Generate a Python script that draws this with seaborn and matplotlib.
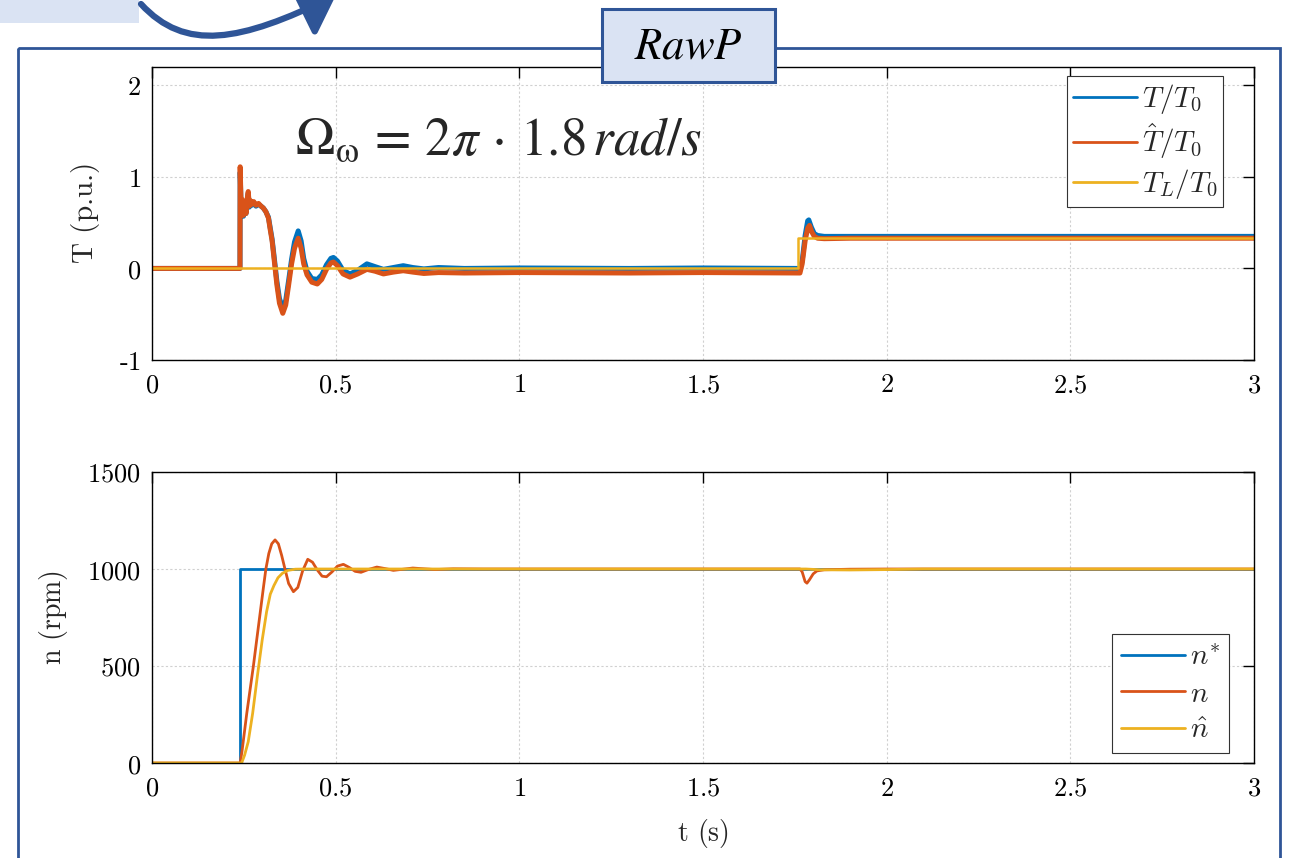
import numpy as np
import pandas as pd
import matplotlib
matplotlib.use("Agg")
import matplotlib.pyplot as plt
import seaborn as sns
from matplotlib.patches import Rectangle, FancyArrowPatch
from matplotlib.path import Path

# ---------------- data ----------------
x_ticks = [0, 0.5, 1, 1.5, 2, 2.5, 3]
x_ticklabels = ["0", "0.5", "1", "1.5", "2", "2.5", "3"]
T_yticks = [-1, 0, 1, 2]
T_yticklabels = [r"\text{-}1", "0", "1", "2"]
n_yticks = [0, 500, 1000, 1500]
n_yticklabels = ["0", "500", "1000", "1500"]

# torque estimate (orange)
t_That = [0, 0.2395, 0.2400, 0.243, 0.246, 0.249, 0.252, 0.256, 0.259, 0.262, 0.265,
          0.268, 0.272, 0.277, 0.283, 0.290, 0.297, 0.303, 0.310, 0.317, 0.322, 0.327,
          0.333, 0.340, 0.347, 0.356, 0.364, 0.372, 0.380, 0.388, 0.398, 0.406, 0.413,
          0.422, 0.435, 0.450, 0.462, 0.475, 0.487, 0.494, 0.505, 0.520, 0.539, 0.560,
          0.585, 0.607, 0.630, 0.657, 0.684, 0.710, 0.740, 0.780, 0.850, 1.0, 1.3, 1.5,
          1.764, 1.770, 1.778, 1.785, 1.790, 1.796, 1.803, 1.812, 1.830, 1.9, 2.2, 2.6, 3.0]
v_That = [0, 0, 1.11, 0.62, 0.75, 0.58, 0.72, 0.60, 0.76, 0.84, 0.68,
          0.74, 0.70, 0.73, 0.69, 0.71, 0.68, 0.66, 0.62, 0.55, 0.42, 0.30,
          0.08, -0.18, -0.38, -0.49, -0.40, -0.18, 0.05, 0.22, 0.33, 0.22, 0.05,
          -0.07, -0.15, -0.17, -0.12, -0.01, 0.06, 0.07, 0.03, -0.06, -0.095, -0.06,
          -0.01, -0.03, -0.06, -0.04, -0.025, -0.04, -0.055, -0.045, -0.05, -0.045, -0.05, -0.045,
          -0.05, 0.05, 0.30, 0.44, 0.47, 0.40, 0.35, 0.33, 0.325, 0.33, 0.33, 0.33, 0.33]

# torque (blue)
t_T = [0, 0.2395, 0.2400, 0.243, 0.246, 0.249, 0.252, 0.256, 0.259, 0.262, 0.265,
       0.268, 0.272, 0.277, 0.283, 0.290, 0.297, 0.303, 0.310, 0.317, 0.322, 0.327,
       0.333, 0.340, 0.347, 0.356, 0.364, 0.372, 0.380, 0.388, 0.398, 0.406, 0.413,
       0.422, 0.435, 0.450, 0.462, 0.475, 0.487, 0.494, 0.505, 0.520, 0.539, 0.560,
       0.585, 0.607, 0.630, 0.657, 0.684, 0.710, 0.740, 0.780, 0.850, 1.0, 1.3, 1.5,
       1.764, 1.770, 1.778, 1.785, 1.788, 1.795, 1.803, 1.812, 1.830, 1.9, 2.2, 2.6, 3.0]
v_T = [0, 0, 1.05, 0.60, 0.72, 0.57, 0.70, 0.60, 0.74, 0.82, 0.67,
       0.73, 0.69, 0.72, 0.68, 0.70, 0.68, 0.66, 0.62, 0.56, 0.44, 0.32,
       0.11, -0.14, -0.33, -0.43, -0.35, -0.13, 0.10, 0.29, 0.41, 0.30, 0.11,
       -0.03, -0.11, -0.12, -0.07, 0.04, 0.11, 0.12, 0.08, -0.02, -0.06, -0.02,
       0.05, 0.02, -0.01, 0.01, 0.03, 0.01, -0.005, 0.01, 0.0, 0.005, 0.0, 0.005,
       0.0, 0.08, 0.36, 0.52, 0.53, 0.45, 0.38, 0.36, 0.35, 0.35, 0.35, 0.35, 0.35]

# load torque (yellow)
t_TL = [0, 1.758, 1.758, 3.0]
v_TL = [0, 0, 0.33, 0.33]

# speed reference (blue)
t_nref = [0, 0.240, 0.240, 3.0]
v_nref = [0, 0, 1000, 1000]

# measured speed (orange)
t_n = [0, 0.240, 0.245, 0.258, 0.276, 0.285, 0.292, 0.303, 0.310, 0.318, 0.326, 0.335,
       0.344, 0.353, 0.362, 0.372, 0.385, 0.397, 0.410, 0.424, 0.437, 0.450, 0.463,
       0.475, 0.490, 0.505, 0.521, 0.537, 0.553, 0.569, 0.590, 0.612, 0.635, 0.657,
       0.680, 0.710, 0.740, 0.770, 0.820, 0.900, 1.764, 1.770, 1.778, 1.783, 1.790,
       1.800, 1.810, 1.830, 1.900, 2.000, 3.0]
v_n = [0, 0, 60, 256, 500, 634, 737, 900, 1000, 1080, 1130, 1150,
       1130, 1070, 1000, 925, 883, 905, 990, 1050, 1035, 995, 963,
       960, 985, 1015, 1024, 1008, 988, 983, 998, 1010, 1002, 993,
       998, 1005, 1001, 997, 1001, 1000, 1000, 985, 935, 927, 945,
       975, 990, 996, 999, 1000, 1000]

# estimated speed (yellow)
t_nhat = [0, 0.244, 0.252, 0.262, 0.274, 0.287, 0.300, 0.312, 0.322, 0.332, 0.343,
          0.355, 0.370, 0.390, 0.420, 1.780, 1.820, 1.900, 2.000, 2.100, 3.0]
v_nhat = [0, 0, 40, 110, 256, 450, 634, 780, 870, 915, 955,
          978, 993, 999, 1000, 1000, 996, 995, 997, 1000, 1000]

C_BLUE = "#0072BD"
C_ORANGE = "#D95319"
C_YELLOW = "#EDB120"
FRAME = "#2F5597"
FILL = "#DAE3F3"

# ---------------- style ----------------
sns.set_style("white")
plt.rcParams["font.family"] = ["DejaVu Serif"]
plt.rcParams["mathtext.fontset"] = "cm"

W, H = 1289, 858
fig = plt.figure(figsize=(W / 100, H / 100), dpi=100)
fig.patch.set_facecolor("white")


def px_axes(l, t, r, b):
    return [l / W, 1 - b / H, (r - l) / W, (b - t) / H]


ax_bg = fig.add_axes([0, 0, 1, 1], zorder=0)
ax_bg.set_xlim(0, W)
ax_bg.set_ylim(H, 0)
ax_bg.axis("off")
ax_bg.patch.set_alpha(0)

ax1 = fig.add_axes(px_axes(152, 67, 1254, 360), zorder=2)
ax2 = fig.add_axes(px_axes(152, 472, 1254, 763), zorder=2)

ax_fg = fig.add_axes([0, 0, 1, 1], zorder=5)
ax_fg.set_xlim(0, W)
ax_fg.set_ylim(H, 0)
ax_fg.axis("off")
ax_fg.patch.set_alpha(0)

# decorations
ax_bg.add_patch(Rectangle((0, -5), 139, 28, facecolor=FILL, edgecolor="none"))
ax_bg.add_patch(Rectangle((18, 48), 1262, 840, facecolor="none", edgecolor=FRAME, lw=2.0))
arrow_path = Path([(141, 4), (185, 52), (240, 42), (336, -5)],
                  [Path.MOVETO, Path.CURVE4, Path.CURVE4, Path.CURVE4])
ax_bg.add_patch(FancyArrowPatch(path=arrow_path, arrowstyle="-|>,head_length=0.9,head_width=0.7",
                                mutation_scale=24, color=FRAME, lw=4.5))

ax_fg.add_patch(Rectangle((602, 9), 173, 73, facecolor=FILL, edgecolor=FRAME, lw=2.2))
ax_fg.text(688, 46, r"$RawP$", math_fontfamily="stix", fontsize=32,
           ha="center", va="center", color="black")


def style_axes(ax, yticks, yticklabels, ylim):
    ax.set_xlim(0, 3)
    ax.set_ylim(*ylim)
    ax.set_xticks(x_ticks)
    ax.set_xticklabels(["$" + s + "$" for s in x_ticklabels])
    ax.set_yticks(yticks)
    ax.set_yticklabels(["$" + s + "$" for s in yticklabels])
    ax.tick_params(direction="in", length=8, width=1, top=True, right=True,
                   labelsize=19, colors="black")
    ax.tick_params(axis="x", pad=9)
    ax.tick_params(axis="y", pad=8)
    for s in ax.spines.values():
        s.set_visible(True)
        s.set_color("black")
        s.set_linewidth(1.0)
    ax.grid(True, color="#d0d0d0", linestyle=(0, (2, 2)), linewidth=0.8)
    ax.set_axisbelow(True)
    ax.set_facecolor("white")


# ---------------- top: torques ----------------
sns.lineplot(x=t_T, y=v_T, ax=ax1, color=C_BLUE, linewidth=3.6, estimator=None, sort=False,
             label=r"$T/T_0$")
sns.lineplot(x=t_That, y=v_That, ax=ax1, color=C_ORANGE, linewidth=3.6, estimator=None, sort=False,
             label=r"$\hat{T}/T_0$")
sns.lineplot(x=t_TL, y=v_TL, ax=ax1, color=C_YELLOW, linewidth=1.8, estimator=None, sort=False,
             label=r"$T_L/T_0$")
style_axes(ax1, T_yticks, T_yticklabels, (-1, 2.2))
ax1.set_xlabel("")
ax1.set_ylabel(r"$\text{T (p.u.)}$", fontsize=21)
ax1.yaxis.set_label_coords(-0.045, 0.5)
h, l = ax1.get_legend_handles_labels()
leg1 = ax1.legend(h, l, loc="upper right", bbox_to_anchor=(0.972, 0.969), fontsize=21,
                  frameon=True, fancybox=False, framealpha=1, edgecolor="#333333",
                  handlelength=2.2, handletextpad=0.15, labelspacing=0.2,
                  borderpad=0.2, borderaxespad=0)
leg1.get_frame().set_linewidth(0.8)
for ln in leg1.get_lines():
    ln.set_linewidth(2.0)
ax1.text(0.39, 1.40, r"$\Omega_{\mathrm{\omega}}\,=\,2\pi\,\cdot\,1.8\,rad/s$", fontsize=38,
         math_fontfamily="stix", ha="left", va="center")

# ---------------- bottom: speeds ----------------
sns.lineplot(x=t_nref, y=v_nref, ax=ax2, color=C_BLUE, linewidth=2.0, estimator=None, sort=False,
             label=r"$n^{*}$")
sns.lineplot(x=t_n, y=v_n, ax=ax2, color=C_ORANGE, linewidth=2.0, estimator=None, sort=False,
             label=r"$n$")
sns.lineplot(x=t_nhat, y=v_nhat, ax=ax2, color=C_YELLOW, linewidth=2.0, estimator=None, sort=False,
             label=r"$\hat{n}$")
style_axes(ax2, n_yticks, n_yticklabels, (0, 1500))
ax2.set_xlabel(r"$\text{t (s)}$", fontsize=20)
ax2.xaxis.set_label_coords(0.5, -0.185)
ax2.set_ylabel(r"$\text{n (rpm)}$", fontsize=20)
ax2.yaxis.set_label_coords(-0.074, 0.5)
h, l = ax2.get_legend_handles_labels()
leg2 = ax2.legend(h, l, loc="lower right", bbox_to_anchor=(0.977, 0.034), fontsize=21,
                  frameon=True, fancybox=False, framealpha=1, edgecolor="#333333",
                  handlelength=2.2, handletextpad=0.15, labelspacing=0.3,
                  borderpad=0.3, borderaxespad=0)
leg2.get_frame().set_linewidth(0.8)

fig.savefig("out.png", dpi=100)
